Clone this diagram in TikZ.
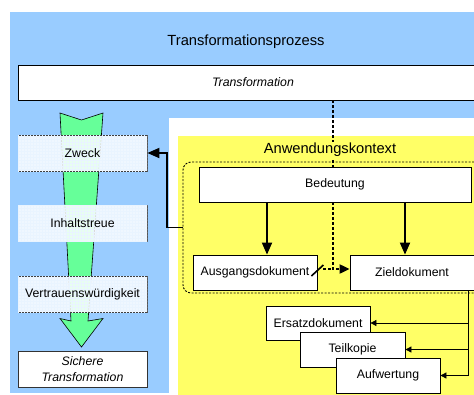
\documentclass[tikz,border=0pt]{standalone}
\usepackage{fontspec}
\setmainfont{Liberation Sans}
\usetikzlibrary{arrows.meta,patterns,calc}
\definecolor{bgblue}{RGB}{153,204,255}
\definecolor{bgyellow}{RGB}{255,255,102}
\definecolor{arrgreen}{RGB}{102,255,153}
\begin{document}
\begin{tikzpicture}[x=1pt,y=-1pt,
  every node/.style={font=\fontsize{12.3}{15.5}\selectfont, inner sep=0pt},
  box/.style={draw=black, line width=0.8pt, fill=white, minimum height=35pt},
  gridbox/.style={draw=black!75, line width=0.8pt, fill=white, fill opacity=0.85, text opacity=1,
     minimum width=129pt, minimum height=36pt, postaction={pattern=grid, pattern color=bgblue!22}},
  thickarr/.style={line width=1.8pt, -{Triangle[length=12pt,width=10pt]}},
  dotl/.style={line width=2pt, dash pattern=on 2.5pt off 2.5pt},
  thinarr/.style={line width=0.8pt, -{Triangle[length=6pt,width=6pt]}},
  titletext/.style={font=\fontsize{14.7}{17}\selectfont}
]
\useasboundingbox (0,0) rectangle (474,394);
% backgrounds
\fill[bgblue] (10,12) rectangle (480,393);
\fill[white] (169,118) rectangle (480,400);
\fill[bgyellow] (178,136) rectangle (480,400);
% green arrow
\draw[fill=arrgreen, line width=0.6pt, line join=miter]
  (60,113) -- (81.5,120) -- (103,113) -- (88,321) -- (103,318.5) -- (81.5,347)
  -- (60,318.5) -- (71,321) -- cycle;
% nodes
\node[titletext] (proz) at (246,42) {Transformationsprozess};
\node[box, minimum width=470pt] (trans) at (253,82.5) {\itshape Transformation};
\node[gridbox] (zweck) at (82.5,153) {Zweck};
\node[gridbox] (inhalt) at (82.5,223.5) {Inhaltstreue};
\node[gridbox] (vertr) at (82.5,294) {Vertrauenswürdigkeit};
\node[box, draw=black!80, minimum width=129pt, minimum height=36pt, align=center] (sicher) at (82.5,369)
  {\itshape Sichere\\\itshape Transformation};
\node[draw, line width=0.9pt, dash pattern=on 2pt off 1.5pt, rounded corners=8pt,
  minimum width=320pt, minimum height=131pt] (ctx) at (343,227.5) {};
\node[box, minimum width=272pt] (bed) at (335,184.5) {Bedeutung};
\node[box, minimum width=124pt] (aus) at (255,272.5) {Ausgangsdokument};
\node[box, minimum width=124pt] (ziel) at (412,272.5) {Zieldokument};
\node[box, minimum width=104pt, minimum height=34pt] (ersatz) at (318,323) {Ersatzdokument};
\node[box, minimum width=105pt] (teil) at (352.5,349.5) {Teilkopie};
\node[box, minimum width=104pt] (aufw) at (388,375.5) {Aufwertung};
% connectors
\coordinate (kx) at (167,0);
\draw[thickarr] (ctx.west) -- (ctx.west -| kx) |- (zweck.east);
\coordinate (a1) at (267,0);
\coordinate (a2) at (405,0);
\draw[thickarr] (bed.south -| a1) -- (aus.north -| a1);
\draw[thickarr] (bed.south -| a2) -- (ziel.north -| a2);
\coordinate (dx) at (333,0);
\coordinate (dy) at (0,269);
\draw[dotl] (trans.south -| dx) -- (bed.north -| dx);
\draw[dotl, -{Triangle[length=10pt,width=9pt]}] (bed.south -| dx) -- (dx |- dy) -- (ziel.west |- dy);
\draw[dotl] ($(aus.east |- dy)+(6,0)$) -- (dx |- dy);
\draw[line width=1.6pt] ($(aus.east |- dy)+(-6,7)$) -- ($(aus.east |- dy)+(6,-4)$);
\coordinate (zx) at (468,0);
\draw[thinarr] (ziel.south -| zx) |- (ersatz.east);
\draw[thinarr] (ziel.south -| zx) |- (teil.east);
\draw[thinarr] (ziel.south -| zx) |- (aufw.east);
\node[titletext, fill=bgyellow, inner sep=1pt] (anw) at (330,150) {Anwendungskontext};
\end{tikzpicture}
\end{document}
